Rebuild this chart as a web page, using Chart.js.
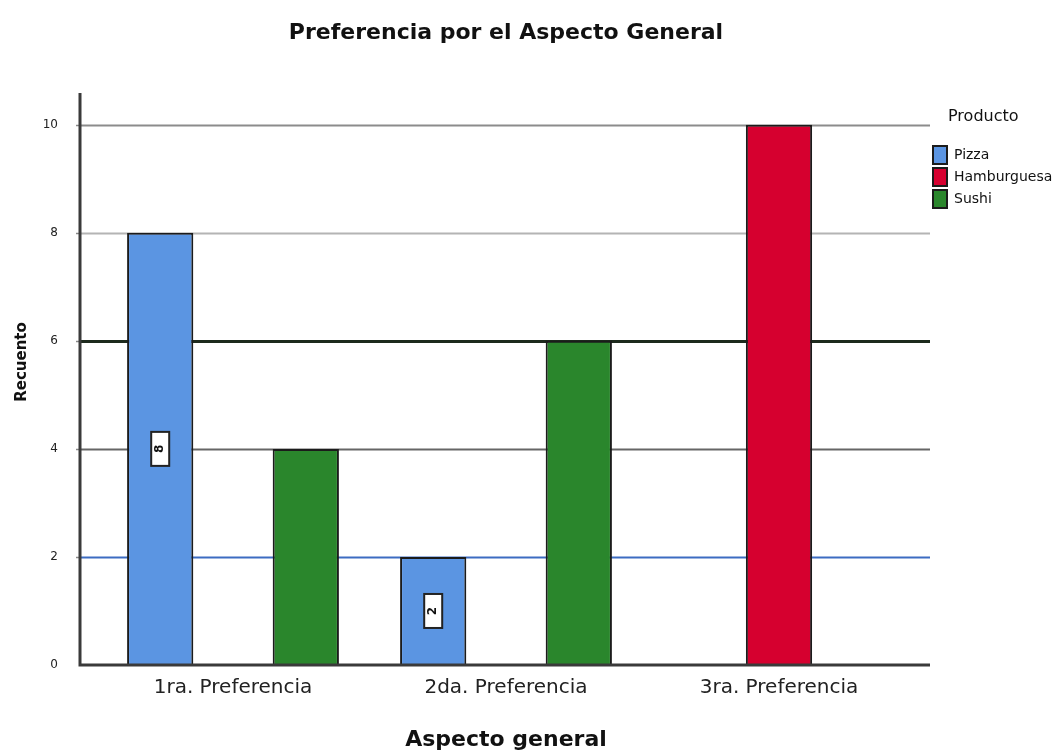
<!DOCTYPE html>
<html>
<head>
<meta charset="utf-8">
<script src="https://cdn.jsdelivr.net/npm/chart.js@4/dist/chart.umd.min.js"></script>
<style>
  html, body { margin: 0; padding: 0; background: #ffffff; }
  #wrap { width: 1053px; height: 754px; }
</style>
</head>
<body>
<div id="wrap"><canvas id="c" width="1053" height="754"></canvas></div>
<script>
// Counts per product for each preference level
const categories = ['1ra. Preferencia', '2da. Preferencia', '3ra. Preferencia'];
const productNames = ['Pizza', 'Hamburguesa', 'Sushi'];
const pizzaCounts = [8, 2, 0];
const hamburguesaCounts = [0, 0, 10];
const sushiCounts = [4, 6, 0];
const yTickValues = [0, 2, 4, 6, 8, 10];

const chartTitle = 'Preferencia por el Aspecto General';
const xAxisTitle = 'Aspecto general';
const yAxisTitle = 'Recuento';
const legendTitle = 'Producto';

const FONT = '"DejaVu Sans", "Liberation Sans", Arial, sans-serif';
const seriesColors = ['#5b95e2', '#d6002f', '#2a862c'];
const gridColors = { 2: '#3c6cc2', 4: '#666666', 6: '#1d2a1d', 8: '#b4b4b4', 10: '#8c8c8c' };
const gridWidths = { 2: 2, 4: 2, 6: 3, 8: 2, 10: 2 };
const EXT_LEFT = 16.5, EXT_RIGHT = 14.5;

// Grid lines and axis lines run a little past the bar area on both sides
const framePlugin = {
  id: 'frame',
  beforeDatasetsDraw(chart) {
    const { ctx, chartArea } = chart;
    const y = chart.scales.y;
    ctx.save();
    yTickValues.forEach(v => {
      if (v === 0) return;
      const py = Math.round(y.getPixelForValue(v)) + 0.5;
      ctx.strokeStyle = gridColors[v];
      ctx.lineWidth = gridWidths[v];
      ctx.beginPath();
      ctx.moveTo(chartArea.left - EXT_LEFT, py);
      ctx.lineTo(chartArea.right + EXT_RIGHT, py);
      ctx.stroke();
      // small tick stub left of the axis
      ctx.strokeStyle = '#888';
      ctx.lineWidth = 1.5;
      ctx.beginPath();
      ctx.moveTo(chartArea.left - EXT_LEFT - 4, py);
      ctx.lineTo(chartArea.left - EXT_LEFT, py);
      ctx.stroke();
    });
    ctx.restore();
  },
  afterDatasetsDraw(chart) {
    const { ctx, chartArea } = chart;
    const y = chart.scales.y;
    const y0 = y.getPixelForValue(0);
    const ax = chartArea.left - EXT_LEFT;
    ctx.save();
    ctx.strokeStyle = '#3a3a3a';
    ctx.lineWidth = 3;
    ctx.beginPath();
    ctx.moveTo(ax, chartArea.top - 2);
    ctx.lineTo(ax, y0);
    ctx.lineTo(chartArea.right + EXT_RIGHT, y0);
    ctx.stroke();

    // value boxes inside the first product's bars
    const meta = chart.getDatasetMeta(0);
    const data = chart.data.datasets[0].data;
    meta.data.forEach((bar, i) => {
      const v = data[i];
      if (!v) return;
      const cx = bar.x;
      const cy = y.getPixelForValue(v / 2);
      const w = 18, h = 34;
      ctx.fillStyle = '#ffffff';
      ctx.fillRect(cx - w / 2, cy - h / 2, w, h);
      ctx.strokeStyle = '#222';
      ctx.lineWidth = 2;
      ctx.strokeRect(cx - w / 2, cy - h / 2, w, h);
      ctx.save();
      ctx.translate(cx, cy);
      ctx.rotate(-Math.PI / 2);
      ctx.fillStyle = '#111';
      ctx.font = 'bold 12px ' + FONT;
      ctx.textAlign = 'center';
      ctx.textBaseline = 'middle';
      ctx.fillText(String(v), 0, 0);
      ctx.restore();
    });

    // legend
    const lx = chartArea.right + 17.5;
    ctx.fillStyle = '#111';
    ctx.font = '16px ' + FONT;
    ctx.textAlign = 'left';
    ctx.textBaseline = 'middle';
    ctx.fillText(legendTitle, lx + 15, 117);
    chart.data.datasets.forEach((ds, i) => {
      const top = 146 + i * 22;
      ctx.fillStyle = ds.backgroundColor;
      ctx.fillRect(lx, top, 14, 18);
      ctx.strokeStyle = '#1b1b1b';
      ctx.lineWidth = 2;
      ctx.strokeRect(lx, top, 14, 18);
      ctx.fillStyle = '#111';
      ctx.font = '14px ' + FONT;
      ctx.fillText(ds.label, lx + 21, top + 9);
    });

    // y axis title
    ctx.save();
    ctx.translate(22, 362);
    ctx.rotate(-Math.PI / 2);
    ctx.font = 'bold 15px ' + FONT;
    ctx.textAlign = 'center';
    ctx.textBaseline = 'middle';
    ctx.fillStyle = '#111';
    ctx.fillText(yAxisTitle, 0, 0);
    ctx.restore();
    ctx.restore();
  }
};

const seriesData = [pizzaCounts, hamburguesaCounts, sushiCounts];

new Chart(document.getElementById('c'), {
  type: 'bar',
  data: {
    labels: categories,
    datasets: seriesData.map((d, i) => ({
      label: productNames[i],
      data: d,
      backgroundColor: seriesColors[i],
      borderColor: '#1b1b1b',
      borderWidth: 2,
      borderSkipped: 'bottom',
      categoryPercentage: 0.8,
      barPercentage: 0.91
    }))
  },
  options: {
    responsive: false,
    devicePixelRatio: 1,
    animation: false,
    layout: { padding: { left: 0, right: 137.5, top: 0, bottom: 0 } },
    plugins: {
      legend: { display: false },
      tooltip: { enabled: false },
      title: {
        display: true,
        text: chartTitle,
        fullSize: false,
        color: '#111',
        font: { family: FONT, size: 22, weight: 'bold' },
        padding: { top: 19.8, bottom: 48.8 }
      }
    },
    scales: {
      x: {
        offset: true,
        grid: { display: false, drawTicks: false },
        border: { display: false },
        ticks: { color: '#222', font: { family: FONT, size: 20 }, padding: 11, maxRotation: 0 },
        title: {
          display: true,
          text: xAxisTitle,
          color: '#111',
          font: { family: FONT, size: 22, weight: 'bold' },
          padding: { top: 0, bottom: 0.8 }
        },
        afterFit(scale) { scale.height = 89; }
      },
      y: {
        min: 0,
        max: 10.55,
        grid: { display: false, drawTicks: false },
        border: { display: false },
        ticks: { color: '#222', font: { family: FONT, size: 12 }, padding: 38.5 },
        afterBuildTicks(scale) { scale.ticks = yTickValues.map(v => ({ value: v })); },
        afterFit(scale) { scale.width = 96.5; }
      }
    }
  },
  plugins: [framePlugin]
});
</script>
</body>
</html>
